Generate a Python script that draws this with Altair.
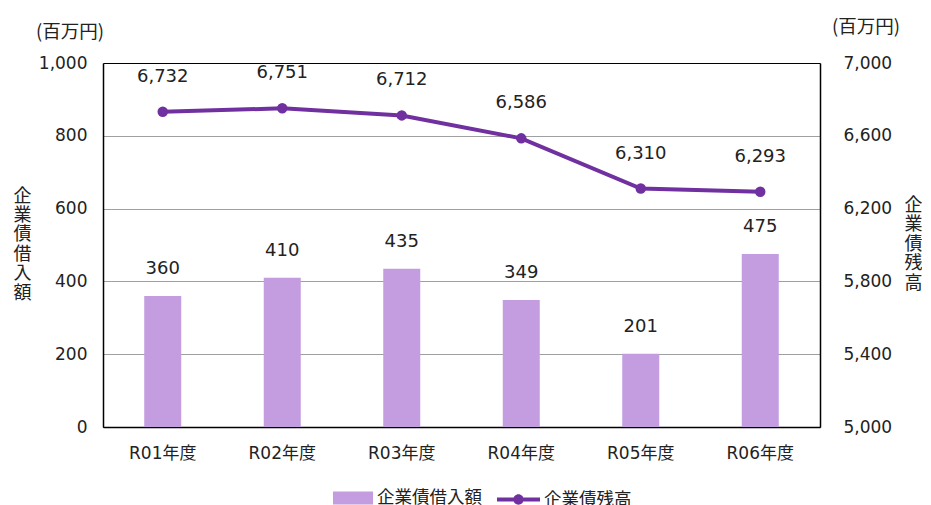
import altair as alt
import pandas as pd

years = ["R01年度", "R02年度", "R03年度", "R04年度", "R05年度", "R06年度"]
borrow = [360, 410, 435, 349, 201, 475]
balance = [6732, 6751, 6712, 6586, 6310, 6293]
series_names = ["企業債借入額", "企業債残高"]
left_ticks = [0, 200, 400, 600, 800, 1000]
right_ticks = [5000, 5400, 5800, 6200, 6600, 7000]
unit_label = "(百万円)"

BAR = "#C39DDF"
LINE = "#7030A0"
NUM_FONT = "DejaVu Sans, Noto Sans CJK JP"
JP_FONT = "Noto Sans CJK JP"

df = pd.DataFrame({
    "year": years,
    "borrow": borrow,
    "balance": balance,
    "s_bar": [series_names[0]] * len(years),
    "s_line": [series_names[1]] * len(years),
})

x_enc = alt.X("year:N", sort=years, title=None,
              scale=alt.Scale(paddingInner=0, paddingOuter=0),
              axis=alt.Axis(labelAngle=0, ticks=False, labelPadding=18,
                            labelFont=NUM_FONT, labelFontSize=17, labelColor="#222",
                            domainColor="black", domainWidth=1.5))

base = alt.Chart(df)

bars = base.mark_bar(size=37, color=BAR).encode(
    color=alt.Color("s_bar:N", scale=alt.Scale(domain=[series_names[0]], range=[BAR]),
                    legend=alt.Legend(orient="none", legendX=230, legendY=415, title=None,
                                      symbolType="M-1,-0.32H1V0.32H-1Z", symbolSize=1600,
                                      symbolStrokeWidth=0, labelFont=JP_FONT,
                                      labelFontSize=17.5, labelColor="#222", labelOffset=4))
)
bar_text = base.mark_text(baseline="middle", dy=-27, font=NUM_FONT, fontSize=18,
                          color="#222").encode(text=alt.Text("borrow:Q", format=","))

left = alt.layer(bars, bar_text).encode(
    x=x_enc,
    y=alt.Y("borrow:Q",
            scale=alt.Scale(domain=[0, 1000], nice=False, zero=True),
            axis=alt.Axis(values=left_ticks, format=",.0f", ticks=False, labelPadding=16,
                          labelFont=NUM_FONT, labelFontSize=17, labelColor="#222",
                          domainColor="black", domainWidth=1.5,
                          grid=True,
                          gridColor=alt.condition("datum.value == 0 || datum.value == 1000",
                                                  alt.value("black"), alt.value("#A0A0A0")),
                          gridWidth=1.2,
                          title=list("企業債借入額"), titleAngle=0, titleAlign="center",
                          titleBaseline="top", titleX=-81, titleY=124,
                          titleFont=JP_FONT, titleFontSize=18, titleFontWeight="normal",
                          titleLineHeight=19.4, titleColor="#222"))
)

line = base.mark_line(strokeWidth=4).encode(
    color=alt.Color("s_line:N", scale=alt.Scale(domain=[series_names[1]], range=[LINE]),
                    legend=alt.Legend(orient="none", legendX=394, legendY=415, title=None,
                                      symbolType="M-1,-0.09H1V0.09H-1Z M-0.24,0A0.24,0.24 0 1,1 0.24,0A0.24,0.24 0 1,1 -0.24,0Z",
                                      symbolSize=1849, symbolFillColor=LINE,
                                      symbolStrokeWidth=0, labelFont=JP_FONT,
                                      labelFontSize=17.5, labelColor="#222", labelOffset=4))
)
pts = base.mark_point(filled=True, size=110, opacity=1, color=LINE)
line_text = base.mark_text(baseline="middle", dy=-35, font=NUM_FONT, fontSize=18,
                           color="#222").encode(text=alt.Text("balance:Q", format=","))

right = alt.layer(line, pts, line_text).encode(
    x=x_enc,
    y=alt.Y("balance:Q",
            scale=alt.Scale(domain=[5000, 7000], nice=False, zero=False),
            axis=alt.Axis(values=right_ticks, format=",.0f", ticks=False, labelPadding=23,
                          orient="right", grid=False,
                          labelFont=NUM_FONT, labelFontSize=17, labelColor="#222",
                          domainColor="black", domainWidth=1.5,
                          title=list("企業債残高"), titleAngle=0, titleAlign="center",
                          titleBaseline="top", titleX=93, titleY=133,
                          titleFont=JP_FONT, titleFontSize=18, titleFontWeight="normal",
                          titleLineHeight=19.6, titleColor="#222"))
)

unit_df = pd.DataFrame({"t": [unit_label]})
unit_left = alt.Chart(unit_df).mark_text(font=JP_FONT, fontSize=18.5, color="#222",
                                         baseline="middle", align="center").encode(
    text="t:N", x=alt.value(-33), y=alt.value(-31))
unit_right = alt.Chart(unit_df).mark_text(font=JP_FONT, fontSize=18.5, color="#222",
                                          baseline="middle", align="center").encode(
    text="t:N", x=alt.value(763), y=alt.value(-36))

chart = alt.layer(left, right, unit_left, unit_right).resolve_scale(
    y="independent", color="independent"
).properties(
    width=717, height=364,
    autosize=alt.AutoSizeParams(type="none"),
    padding={"top": 55, "left": 95, "right": 102, "bottom": 90},
).configure_view(stroke="black", strokeWidth=1.5).configure(background="white")

chart.save("out.html", embed_options={"renderer": "svg", "actions": False})
